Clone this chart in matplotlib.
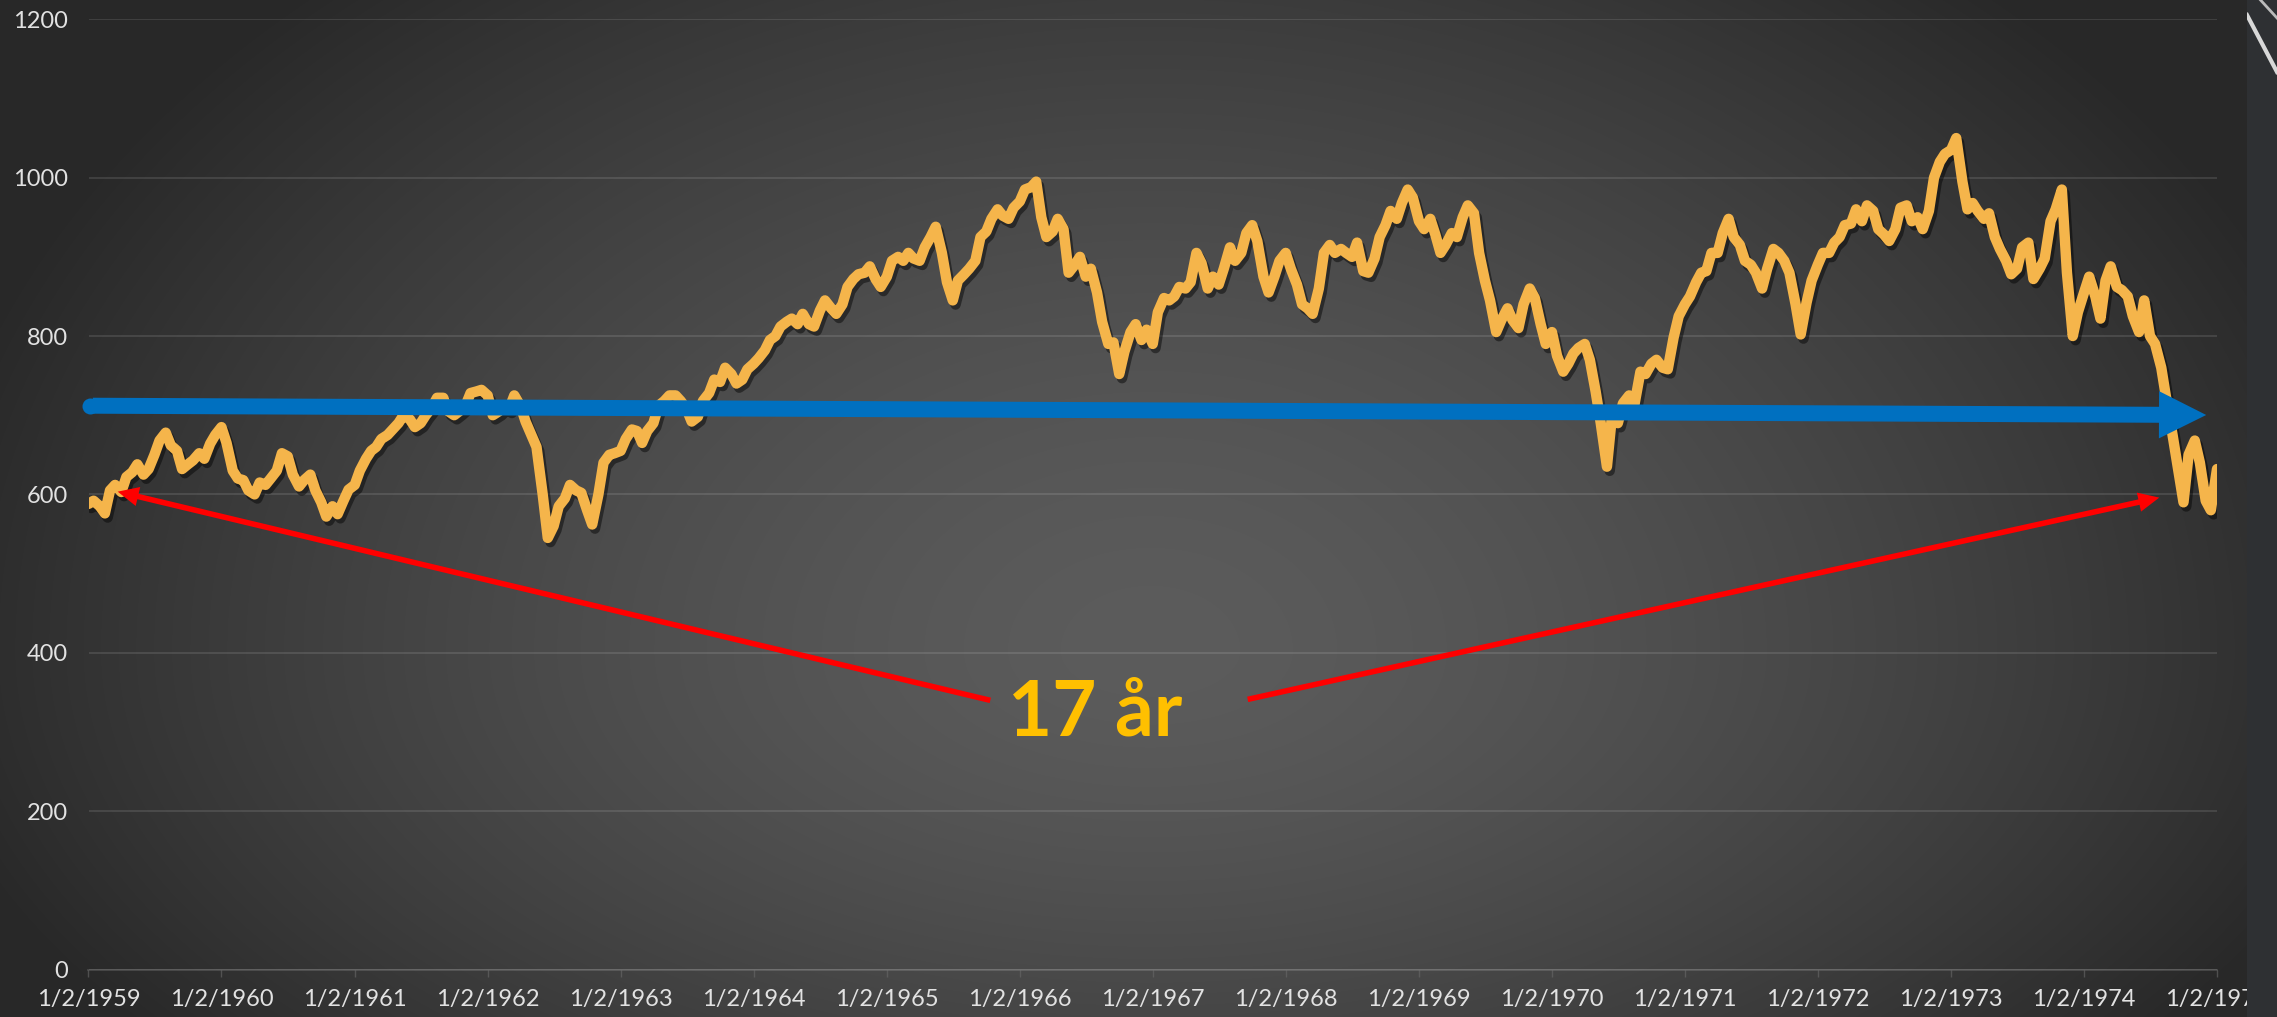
import numpy as np
import pandas as pd
import matplotlib
matplotlib.use("Agg")
import matplotlib.pyplot as plt
import matplotlib.patheffects as pe
from matplotlib.patches import FancyArrowPatch

plt.rcParams['font.family'] = ['Lato', 'DejaVu Sans']

# ---- data: index level, two readings per month (2nd and 16th) ----
years = list(range(1959, 1975))
dow_1959 = [588, 592, 585, 576, 605, 612, 603, 622, 628, 638, 625, 632,
            650, 668, 678, 662, 655, 632, 638, 643, 652, 645, 664, 675]
dow_1960 = [685, 665, 630, 620, 618, 605, 600, 615, 612, 620, 630, 652,
            648, 625, 610, 618, 625, 605, 590, 572, 585, 575, 592, 606]
dow_1961 = [612, 630, 645, 655, 660, 670, 675, 682, 690, 700, 695, 685,
            690, 700, 710, 722, 722, 705, 700, 705, 712, 728, 730, 732]
dow_1962 = [725, 700, 705, 712, 708, 725, 712, 692, 675, 660, 600, 545,
            560, 585, 595, 612, 605, 602, 580, 562, 600, 640, 650, 652]
dow_1963 = [655, 670, 682, 680, 665, 680, 690, 712, 718, 725, 725, 718,
            708, 692, 698, 718, 728, 745, 742, 760, 752, 740, 745, 758]
dow_1964 = [765, 772, 782, 795, 800, 812, 818, 822, 815, 828, 815, 812,
            832, 845, 835, 828, 840, 862, 872, 878, 880, 888, 872, 862]
dow_1965 = [875, 895, 900, 895, 905, 898, 895, 912, 925, 938, 905, 868,
            845, 870, 878, 885, 895, 925, 932, 948, 960, 952, 948, 962]
dow_1966 = [970, 985, 988, 995, 950, 925, 932, 948, 935, 880, 890, 900,
            875, 885, 855, 818, 790, 792, 752, 780, 805, 815, 795, 808]
dow_1967 = [790, 830, 848, 845, 850, 862, 860, 868, 905, 892, 860, 875,
            865, 885, 912, 895, 905, 930, 940, 920, 875, 855, 875, 895]
dow_1968 = [905, 885, 865, 840, 835, 828, 860, 905, 915, 905, 910, 905,
            900, 918, 882, 880, 898, 925, 940, 958, 948, 968, 985, 975]
dow_1969 = [945, 935, 948, 928, 905, 915, 930, 925, 950, 965, 955, 905,
            870, 845, 805, 820, 835, 820, 810, 840, 860, 848, 815, 790]
dow_1970 = [805, 775, 755, 765, 778, 785, 790, 770, 730, 690, 635, 700,
            690, 715, 725, 712, 755, 752, 765, 770, 760, 758, 798, 825]
dow_1971 = [840, 850, 868, 880, 882, 905, 905, 930, 948, 925, 915, 895,
            890, 880, 860, 885, 910, 905, 895, 880, 840, 802, 842, 870]
dow_1972 = [890, 905, 905, 918, 925, 940, 942, 960, 945, 965, 958, 935,
            928, 920, 935, 962, 965, 945, 950, 935, 958, 1000, 1020, 1030]
dow_1973 = [1035, 1050, 995, 960, 968, 958, 948, 955, 925, 910, 895, 878,
            885, 912, 918, 872, 885, 898, 945, 960, 985, 880, 800, 830]
dow_1974 = [855, 875, 850, 822, 870, 888, 862, 858, 850, 825, 805, 845,
            800, 790, 760, 720, 675, 635, 590, 650, 668, 640, 592, 580]
dow_1975 = [632]

values = (dow_1959 + dow_1960 + dow_1961 + dow_1962 + dow_1963 + dow_1964 +
          dow_1965 + dow_1966 + dow_1967 + dow_1968 + dow_1969 + dow_1970 +
          dow_1971 + dow_1972 + dow_1973 + dow_1974 + dow_1975)
dates = [pd.Timestamp(y, m, d) for y in years for m in range(1, 13) for d in (2, 16)]
dates.append(pd.Timestamp(1975, 1, 2))

tick_years = list(range(1959, 1976))
tick_dates = [pd.Timestamp(y, 1, 2) for y in tick_years]
tick_labels = [f"1/2/{y}" for y in tick_years]
y_ticks = [0, 200, 400, 600, 800, 1000, 1200]
annotation_text = "17 år"

# ---- figure ----
W, H = 2277, 1017
fig = plt.figure(figsize=(W / 100, H / 100), dpi=100)

# radial background gradient
bg = fig.add_axes([0, 0, 1, 1])
yy, xx = np.mgrid[0:H, 0:W]
cx, cy = 1150.0, 650.0
ry = np.where(yy < cy, 900.0, 650.0)
r = np.sqrt(((xx - cx) / 1250.0) ** 2 + ((yy - cy) / ry) ** 2)
r = np.clip(r, 0, 1)
g = (40 + 52 * (1 - r ** 1.5)) / 255.0
img = np.dstack([g, g, g])
bg.imshow(img, extent=[0, W, H, 0], aspect='auto', interpolation='bilinear')
bg.set_xlim(0, W)
bg.set_ylim(H, 0)
bg.axis('off')

# main axes
L, R, T, B = 88.5, 2217.0, 19.3, 969.5
ax = fig.add_axes([L / W, 1 - B / H, (R - L) / W, (B - T) / H])
ax.patch.set_alpha(0)

line_color = '#F5B54B'
ax.plot(dates, values, color=line_color, lw=7.5, solid_joinstyle='round',
        solid_capstyle='round', zorder=3,
        path_effects=[pe.SimpleLineShadow(offset=(2, -3), shadow_color='black', alpha=0.45),
                      pe.Normal()])

ax.set_xlim(tick_dates[0], tick_dates[-1])
ax.set_ylim(0, 1200)
ax.set_yticks(y_ticks)
ax.set_yticklabels([str(v) for v in y_ticks])
ax.set_xticks(tick_dates)
ax.set_xticklabels(tick_labels)

ax.yaxis.grid(True, color='#FFFFFF', alpha=0.12, lw=1.3)
ax.xaxis.grid(False)
ax.set_axisbelow(True)
for s in ['top', 'right', 'left']:
    ax.spines[s].set_visible(False)
ax.spines['bottom'].set_color('#FFFFFF')
ax.spines['bottom'].set_alpha(0.15)
ax.spines['bottom'].set_linewidth(1.3)

label_col = '#E2E2E2'
ax.tick_params(axis='y', length=0, pad=15, labelsize=17, labelcolor=label_col)
ax.tick_params(axis='x', length=5, width=1, color='#6A6A6A', pad=9,
               labelsize=17, labelcolor=label_col)

# make the tick marks semi-transparent like the axis line
for t in ax.xaxis.get_major_ticks():
    t.tick1line.set_alpha(0.6)


def ax_frac(px, py):
    return ((px - L) / (R - L), (B - py) / (B - T))


# blue horizontal arrow
blue = '#0070C0'
bA = ax_frac(90, 405.7)
bB = ax_frac(2209, 415)
blue_arrow = FancyArrowPatch(bA, bB, transform=ax.transAxes,
                             arrowstyle='simple,head_length=34,head_width=34,tail_width=11.5',
                             mutation_scale=1, color=blue, lw=0, zorder=5, clip_on=False)
ax.add_patch(blue_arrow)
ax.plot([bA[0]], [bA[1]], 'o', ms=11.5, mec='none', color=blue, transform=ax.transAxes,
        zorder=5, clip_on=False)

# red arrows
red = '#FF0000'
for tail, tip in [((993, 701), (115, 491)), ((1245, 700), (2162, 497))]:
    arr = FancyArrowPatch(ax_frac(*tail), ax_frac(*tip), transform=ax.transAxes,
                          arrowstyle='simple,head_length=15,head_width=14,tail_width=4',
                          mutation_scale=1, color=red, lw=0, zorder=6, clip_on=False)
    ax.add_patch(arr)

tx, ty = ax_frac(1095, 735)
ax.text(tx, ty, annotation_text, transform=ax.transAxes, ha='center', va='baseline',
        fontsize=55, fontweight='bold', color='#FFC000', zorder=7)

# right-hand strip of the slide background
strip = fig.add_axes([2247 / W, 0, (W - 2247) / W, 1], zorder=10)
strip.set_xlim(0, 1)
strip.set_ylim(0, 1)
strip.set_facecolor('#2E3033')
strip.plot([0, 1], [1 - 15 / H, 1 - 72 / H], color='#D8D8D8', lw=3)
strip.plot([0.45, 1], [1.0, 1 - 18 / H], color='#BBBBBB', lw=2)
strip.set_xticks([])
strip.set_yticks([])
for s in strip.spines.values():
    s.set_visible(False)

fig.savefig('out.png', dpi=100)
